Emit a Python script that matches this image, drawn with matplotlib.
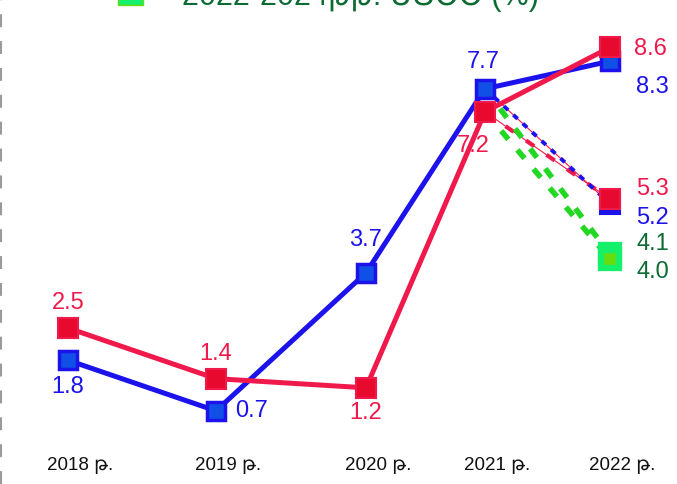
import matplotlib
matplotlib.use("Agg")
import matplotlib.pyplot as plt
from matplotlib.patches import Rectangle

plt.rcParams["font.family"] = ["Liberation Sans", "DejaVu Sans"]

RED = "#F0194B"; BLUE = "#1C12EC"; GREEN = "#22D822"; DKGREEN = "#0B6B33"
LGREEN = "#14F06A"; OLIVE = "#66DD11"

# data
YEARS = ["2018 թ.", "2019 թ.", "2020 թ.", "2021 թ.", "2022 թ."]
RED_VALUES = [2.5, 1.4, 1.2, 7.2, 8.6]
BLUE_VALUES = [1.8, 0.7, 3.7, 7.7, 8.3]
RED_FORECAST = [7.2, 5.3]
BLUE_FORECAST = [7.7, 5.2]
GREEN_FORECAST = [4.1, 4.0]
LEGEND_TEXT = "2022-2024թթ. ՍՑՕՕ (%)"

# layout: x pixel positions of the year columns (uneven in the original)
X_POS = [68, 216, 366, 485, 610]
RED_OFF = [(0, 25), (0, 25), (0, -25), (-12, -34), (40, -2)]
BLUE_OFF = [(0, -27), (36, 0), (0, 33), (-2, 27), (42, -26)]

fig = plt.figure(figsize=(6.77, 4.84), dpi=100)
ax = fig.add_axes([0, 0, 1, 1])
ax.set_xlim(0, 677)
ax.set_ylim(-0.89, 9.63)
ax.axis("off")

# dashed left edge
ax.axvline(1, color="#9a9a9a", lw=1.5, dashes=(6.2, 6.7), zorder=1)

# forecast segments 2021 -> 2022
x2 = X_POS[3:]
ax.plot(x2, RED_FORECAST, color=RED, lw=0.8, zorder=3)
ax.plot(x2, RED_FORECAST, color=RED, lw=3, dashes=(2.4, 3.6), zorder=3)
ax.plot(x2, BLUE_FORECAST, color=RED, lw=0.8, zorder=3)
ax.plot(x2, BLUE_FORECAST, color=BLUE, lw=2.8, dashes=(1.5, 1.8), zorder=3)
ax.plot(x2, [BLUE_FORECAST[0], GREEN_FORECAST[0]], color=GREEN, lw=4, dashes=(2, 2.5), zorder=3)
ax.plot(x2, [RED_FORECAST[0], GREEN_FORECAST[1]], color=GREEN, lw=4, dashes=(2, 2.5), zorder=3)

# main series
ax.plot(X_POS, BLUE_VALUES, color=BLUE, lw=3.6, zorder=4)
ax.plot(X_POS, RED_VALUES, color=RED, lw=3.6, zorder=5)
ax.plot(X_POS, BLUE_VALUES, ls="none", marker="s", ms=13, mfc="#1050E6", mec=BLUE,
        mew=2.5, zorder=6)
ax.plot(X_POS, RED_VALUES, ls="none", marker="s", ms=14, mfc="#E80A2E", mec=RED,
        mew=1.5, zorder=7)

# forecast end markers
ax.plot(X_POS[4], RED_FORECAST[1], marker="s", ms=14, mfc="#E80A2E", mec=RED, mew=1.5, zorder=7)
ax.plot(X_POS[4], BLUE_FORECAST[1], marker="s", ms=14, mfc=BLUE, mec=BLUE, mew=1.5, zorder=6)
ax.plot([X_POS[4]] * 2, GREEN_FORECAST, ls="none", marker="s", ms=13.5, mfc=OLIVE,
        mec=LGREEN, mew=4.5, zorder=6)

fs = 17
for x, v, off in zip(X_POS, RED_VALUES, RED_OFF):
    ax.annotate(f"{v:.1f}", (x, v), xytext=off, textcoords="offset pixels",
                ha="center", va="center", fontsize=fs, color=RED, zorder=9)
for x, v, off in zip(X_POS, BLUE_VALUES, BLUE_OFF):
    ax.annotate(f"{v:.1f}", (x, v), xytext=off, textcoords="offset pixels",
                ha="center", va="center", fontsize=fs, color=BLUE, zorder=9)
ax.annotate(f"{RED_FORECAST[1]:.1f}", (X_POS[4], RED_FORECAST[1]), xytext=(42, 10),
            textcoords="offset pixels", ha="center", va="center", fontsize=fs, color=RED)
ax.annotate(f"{BLUE_FORECAST[1]:.1f}", (X_POS[4], BLUE_FORECAST[1]), xytext=(42, -14),
            textcoords="offset pixels", ha="center", va="center", fontsize=fs, color=BLUE)
for v, dy in zip(GREEN_FORECAST, (10, -13)):
    ax.annotate(f"{v:.1f}", (X_POS[4], v), xytext=(43, dy), textcoords="offset pixels",
                ha="center", va="center", fontsize=fs, color=DKGREEN)

# year labels
for x, t in zip(X_POS, YEARS):
    ax.text(x + 12, 1 - 466 / 484, t, transform=ax.get_xaxis_transform(),
            ha="center", va="center", fontsize=13.5, color="#111111")

# legend entry cut off by the top edge
fig.patches.append(Rectangle((118 / 677, 1 - 5 / 484), 25 / 677, 22 / 484,
                             transform=fig.transFigure, facecolor=LGREEN,
                             edgecolor=OLIVE, lw=1))
fig.text(182 / 677, 1 - 5 / 484, LEGEND_TEXT, ha="left", va="baseline",
         fontsize=22, color=DKGREEN)

fig.savefig("out.png", dpi=100, facecolor="white")
